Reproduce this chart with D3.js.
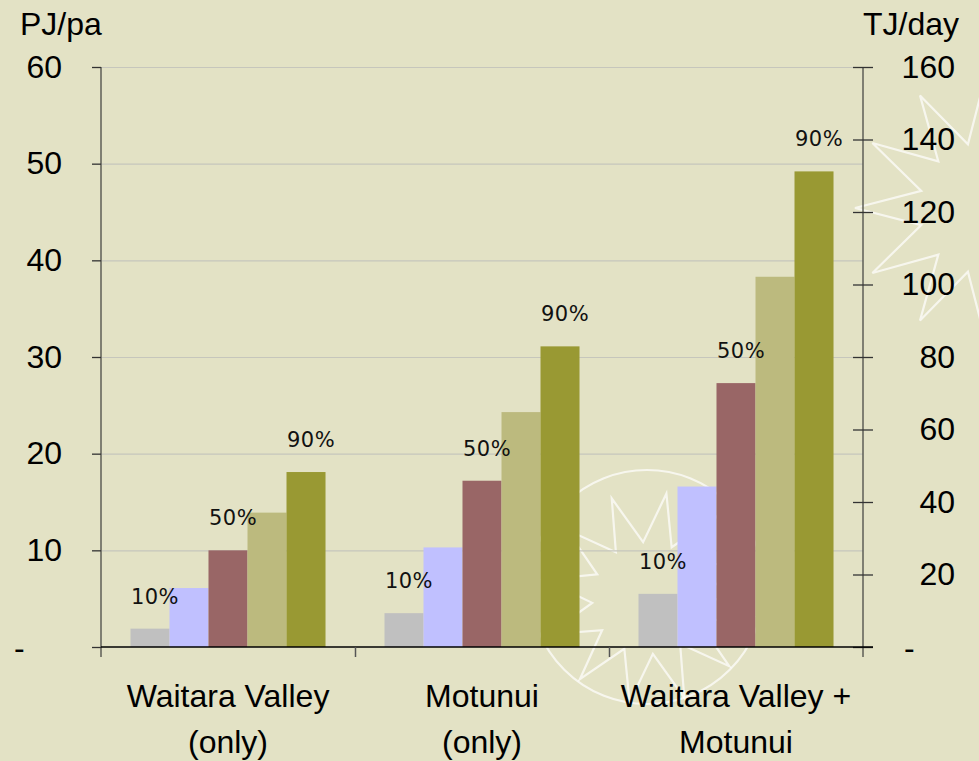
<!DOCTYPE html>
<html>
<head>
<meta charset="utf-8">
<script src="https://cdn.jsdelivr.net/npm/d3@7"></script>
<style>
  html, body { margin: 0; padding: 0; background: #E3E2C5; }
  svg { display: block; font-family: Arial, "Liberation Sans", sans-serif; }
</style>
</head>
<body>
<svg id="chart" width="979" height="761"></svg>
<script>
// ---- data ----
const categories = ["Waitara Valley (only)", "Motunui (only)", "Waitara Valley + Motunui"];
const categoryLines = [["Waitara Valley", "(only)"], ["Motunui", "(only)"], ["Waitara Valley +", "Motunui"]];
const seriesNames = ["10%", "30%", "50%", "70%", "90%"];
const seriesColors = ["#C0C0C0", "#C0C0FF", "#996666", "#BCBA7E", "#999933"];
const valuesWaitara = [1.9, 6.1, 10.0, 13.9, 18.1];
const valuesMotunui = [3.5, 10.3, 17.2, 24.3, 31.1];
const valuesCombined = [5.5, 16.6, 27.3, 38.3, 49.2];
const groupValues = [valuesWaitara, valuesMotunui, valuesCombined];
const labelledSeries = ["10%", "50%", "90%"];
const leftTicks = [0, 10, 20, 30, 40, 50, 60];
const rightTicks = [0, 20, 40, 60, 80, 100, 120, 140, 160];
const leftTitle = "PJ/pa";
const rightTitle = "TJ/day";

// ---- layout ----
const svg = d3.select("#chart");
const pL = 101, pR = 863, pT = 67, pB = 647;

const x0 = d3.scaleBand().domain(categories).range([pL, pR]).paddingInner(0).paddingOuter(0);
const x1 = d3.scaleBand().domain(seriesNames).range([0, x0.bandwidth()]).paddingInner(0).paddingOuter(0.756);
const yL = d3.scaleLinear().domain([0, 60]).range([pB, pT]);
const yR = d3.scaleLinear().domain([0, 160]).range([pB, pT]);
const xEdge = d3.scaleLinear().domain([0, 3]).range([pL, pR]);

// ---- background decoration (faint logo outlines) ----
const deco = svg.append("g").attr("fill", "none").attr("stroke", "#FFFFFF")
  .attr("stroke-opacity", 0.7).attr("stroke-width", 2.2).attr("stroke-linejoin", "miter");
function starPath(cx, cy, rOut, rIn, n, rot) {
  const pts = [];
  for (let i = 0; i < n * 2; i++) {
    const r = i % 2 === 0 ? rOut : rIn;
    const a = (rot + i * 180 / n) * Math.PI / 180;
    pts.push([cx + r * Math.sin(a), cy - r * Math.cos(a)]);
  }
  return d3.line()(pts) + "Z";
}
deco.append("circle").attr("cx", 647).attr("cy", 587).attr("r", 117);
deco.append("path").attr("d", starPath(648, 598, 106, 56, 12, 10));
deco.append("path").attr("d", starPath(985, 208, 130, 66, 12, 0));

// ---- gridlines ----
svg.append("g")
  .attr("transform", `translate(${pL},0)`)
  .call(d3.axisLeft(yL).tickValues(leftTicks.filter(d => d > 0)).tickSize(-(pR - pL)).tickFormat(""))
  .call(g => g.select(".domain").remove())
  .call(g => g.selectAll("line").attr("stroke", "#C6C6BC").attr("stroke-width", 1.2));

// ---- bars ----
const groups = svg.append("g").selectAll("g")
  .data(categories)
  .join("g")
  .attr("transform", d => `translate(${x0(d)},0)`);

groups.selectAll("rect")
  .data((d, gi) => seriesNames.map((s, si) => ({ s, si, v: groupValues[gi][si] })))
  .join("rect")
  .attr("x", d => x1(d.s))
  .attr("width", x1.bandwidth())
  .attr("y", d => yL(d.v))
  .attr("height", d => yL(0) - yL(d.v))
  .attr("fill", d => seriesColors[d.si]);

// ---- percentage labels ----
groups.selectAll("text.pct")
  .data((d, gi) => seriesNames.map((s, si) => ({ s, si, v: groupValues[gi][si] })).filter(d => labelledSeries.includes(d.s)))
  .join("text")
  .attr("class", "pct")
  .attr("x", d => x1(d.s) + x1.bandwidth() / 2 + 5)
  .attr("y", d => yL(d.v) - 25)
  .attr("text-anchor", "middle")
  .attr("font-family", "'DejaVu Sans', Verdana, sans-serif")
  .attr("font-size", 21)
  .attr("letter-spacing", 0.5)
  .attr("fill", "#111")
  .text(d => d.s);

// ---- left axis ----
svg.append("g")
  .attr("transform", `translate(${pL},0)`)
  .call(d3.axisLeft(yL).tickValues(leftTicks).tickSize(9).tickSizeOuter(0).tickPadding(30)
    .tickFormat(d => d === 0 ? "-" : d3.format("d")(d)))
  .call(g => g.select(".domain").attr("stroke", "#5E5E56").attr("stroke-width", 1.5)
    .attr("d", `M0,${pT}V${pB + 10}`))
  .call(g => g.selectAll(".tick line").attr("stroke", "#333").attr("stroke-width", 1.3))
  .call(g => g.selectAll(".tick text").attr("font-size", 32).attr("fill", "#000").attr("font-family", "Arial, 'Liberation Sans', sans-serif"))
  .call(g => g.selectAll(".tick text").filter(d => d === 0).attr("text-anchor", "start").attr("x", -87).attr("dy", "0.35em"));

// ---- right axis ----
svg.append("g")
  .attr("transform", `translate(${pR},0)`)
  .call(d3.axisRight(yR).tickValues(rightTicks).tickSize(10).tickSizeOuter(0)
    .tickFormat(d => d === 0 ? "-" : d3.format("d")(d)))
  .call(g => g.select(".domain").attr("stroke", "#5E5E56").attr("stroke-width", 1.5)
    .attr("d", `M0,${pT}V${pB + 10}`))
  .call(g => g.selectAll(".tick line").attr("x1", -10).attr("stroke", "#333").attr("stroke-width", 1.3))
  .call(g => g.selectAll(".tick text").attr("font-size", 32).attr("fill", "#000")
    .attr("font-family", "Arial, 'Liberation Sans', sans-serif")
    .attr("text-anchor", "end").attr("x", 92))
  .call(g => g.selectAll(".tick text").filter(d => d === 0).attr("text-anchor", "start").attr("x", 41).attr("dy", "0.35em"));

// ---- bottom axis: boundary ticks + baseline ----
svg.append("g")
  .attr("transform", `translate(0,${pB})`)
  .call(d3.axisBottom(xEdge).tickValues([1, 2]).tickSize(10).tickSizeOuter(0).tickFormat(""))
  .call(g => g.select(".domain").attr("stroke", "#000").attr("stroke-width", 1.5)
    .attr("d", `M${pL},0H${pR + 10}`))
  .call(g => g.selectAll(".tick line").attr("stroke", "#555").attr("stroke-width", 1.5));

// ---- category labels ----
svg.append("g")
  .attr("transform", `translate(0,${pB})`)
  .call(d3.axisBottom(x0).tickSize(0).tickFormat(""))
  .call(g => g.select(".domain").remove())
  .call(g => g.selectAll(".tick text").remove())
  .call(g => g.selectAll(".tick").each(function(d, i) {
    const t = d3.select(this).append("text")
      .attr("fill", "#000").attr("font-size", 32).attr("text-anchor", "middle")
      .attr("font-family", "Arial, 'Liberation Sans', sans-serif");
    categoryLines[i].forEach((line, li) => {
      t.append("tspan").attr("x", 0).attr("y", 60 + li * 46).text(line);
    });
  }));

// ---- axis titles ----
svg.append("text").attr("x", 20).attr("y", 35).attr("font-size", 32).attr("fill", "#000").text(leftTitle);
svg.append("text").attr("x", 863).attr("y", 35).attr("font-size", 32).attr("fill", "#000").text(rightTitle);
</script>
</body>
</html>
